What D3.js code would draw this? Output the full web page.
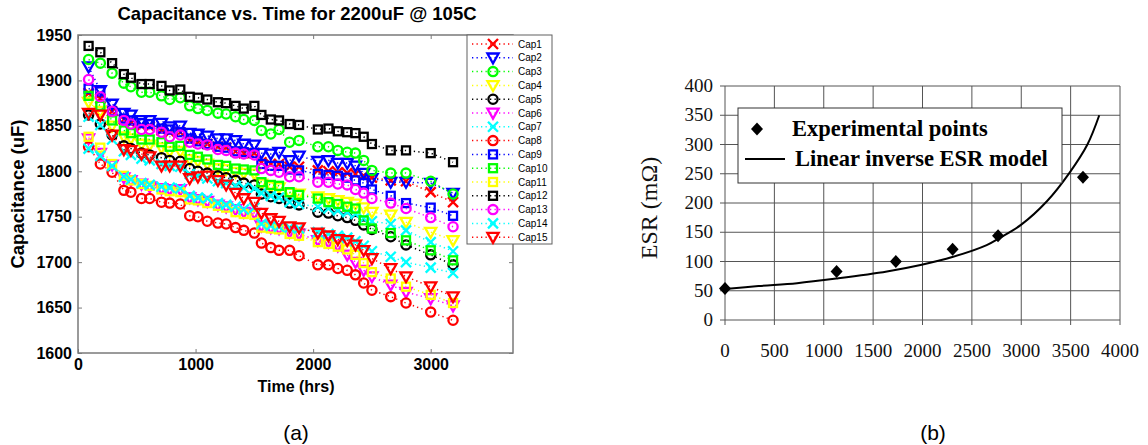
<!DOCTYPE html>
<html><head><meta charset="utf-8">
<script src="https://cdn.jsdelivr.net/npm/d3@7"></script>
<style>body{margin:0;background:#fff}svg{display:block}</style>
</head><body>
<svg id="c" width="1148" height="445"></svg>
<script>
// ---------- Panel (a) data ----------
const hours = [90,190,290,390,450,540,610,710,780,870,950,1020,1100,1190,1260,1340,1410,1500,1560,1640,1710,1800,1880,2040,2130,2210,2290,2360,2430,2500,2660,2790,3000,3190];
const cap1  = [1886,1880,1866,1857,1853,1850,1849,1845,1843,1843,1834,1832,1830,1827,1826,1822,1820,1820,1810,1808,1808,1805,1805,1801,1800,1799,1798,1797,1795,1793,1790,1789,1777,1766];
const cap2  = [1915,1889,1874,1864,1862,1856,1856,1853,1849,1850,1842,1841,1839,1836,1836,1834,1830,1829,1820,1819,1821,1812,1817,1811,1812,1809,1809,1806,1798,1792,1788,1788,1787,1776];
const cap3  = [1923,1919,1908,1897,1893,1887,1887,1883,1879,1881,1872,1869,1867,1864,1863,1860,1857,1856,1845,1841,1846,1832,1834,1827,1827,1823,1821,1820,1812,1801,1798,1798,1789,1775];
const cap4  = [1876,1866,1850,1838,1836,1830,1829,1826,1822,1822,1813,1811,1808,1803,1802,1799,1798,1797,1786,1783,1782,1776,1775,1772,1770,1768,1766,1764,1760,1755,1752,1744,1733,1724];
const cap5  = [1862,1852,1840,1828,1825,1820,1818,1815,1812,1811,1803,1800,1798,1795,1793,1790,1787,1785,1775,1772,1770,1765,1763,1755,1754,1751,1749,1746,1741,1736,1728,1719,1708,1697];
const cap6  = [1836,1820,1807,1793,1790,1786,1783,1781,1780,1780,1771,1769,1767,1763,1761,1758,1755,1754,1740,1738,1737,1733,1731,1724,1722,1718,1708,1700,1691,1684,1675,1667,1660,1652];
const cap7  = [1860,1851,1835,1822,1818,1814,1812,1808,1806,1805,1797,1795,1792,1789,1787,1784,1782,1781,1776,1773,1771,1766,1764,1761,1759,1757,1755,1753,1748,1745,1742,1735,1722,1712];
const cap8  = [1827,1808,1799,1779,1777,1770,1770,1766,1765,1764,1751,1750,1745,1743,1742,1738,1735,1732,1721,1716,1713,1713,1707,1697,1697,1693,1691,1686,1677,1669,1662,1655,1645,1636];
const cap9  = [1891,1888,1866,1858,1856,1853,1852,1847,1846,1843,1836,1833,1830,1827,1826,1822,1821,1820,1808,1806,1806,1802,1801,1797,1796,1795,1793,1790,1787,1780,1773,1765,1760,1751];
const cap10 = [1883,1872,1856,1845,1842,1835,1835,1832,1827,1828,1818,1816,1813,1807,1806,1803,1802,1801,1788,1785,1784,1777,1774,1770,1766,1764,1761,1759,1746,1737,1732,1724,1713,1702];
const cap11 = [1838,1826,1808,1795,1790,1786,1784,1780,1778,1777,1769,1768,1765,1762,1760,1755,1753,1752,1738,1737,1736,1731,1729,1722,1720,1717,1714,1708,1699,1689,1682,1673,1664,1655];
const cap12 = [1938,1931,1919,1907,1903,1896,1896,1894,1889,1890,1882,1881,1879,1876,1875,1872,1869,1872,1862,1857,1856,1852,1851,1846,1847,1844,1843,1842,1838,1830,1823,1823,1820,1810];
const cap13 = [1901,1882,1866,1856,1852,1846,1846,1843,1838,1840,1832,1830,1829,1824,1823,1820,1819,1818,1803,1801,1799,1794,1794,1788,1788,1786,1785,1780,1776,1770,1765,1759,1749,1739];
const cap14 = [1825,1817,1806,1794,1791,1787,1785,1783,1782,1781,1773,1771,1770,1765,1763,1761,1758,1760,1742,1740,1739,1738,1737,1733,1731,1729,1727,1723,1718,1712,1706,1700,1694,1688];
const cap15 = [1864,1862,1840,1824,1823,1819,1816,1806,1806,1806,1792,1794,1795,1790,1785,1776,1770,1766,1754,1748,1745,1739,1738,1732,1729,1725,1724,1719,1713,1704,1693,1684,1673,1662];
const seriesNames = ["Cap1","Cap2","Cap3","Cap4","Cap5","Cap6","Cap7","Cap8","Cap9","Cap10","Cap11","Cap12","Cap13","Cap14","Cap15"];
const seriesValues = [cap1,cap2,cap3,cap4,cap5,cap6,cap7,cap8,cap9,cap10,cap11,cap12,cap13,cap14,cap15];
const seriesColors = ["#ff0000","#0000ff","#00ff00","#ffff00","#000000","#ff00ff","#00ffff","#ff0000","#0000ff","#00ff00","#ffff00","#000000","#ff00ff","#00ffff","#ff0000"];
const seriesMarkers = ["x","v","o","v","o","v","x","o","s","s","s","s","o","x","v"];
const xTicksA = [0,1000,2000,3000];
const yTicksA = [1600,1650,1700,1750,1800,1850,1900,1950];
const titleA = "Capacitance vs. Time for 2200uF @ 105C";

// ---------- Panel (b) data ----------
const expHours = [0,1130,1730,2305,2765,3625];
const expESR   = [54,83,100,121,144,244];
const modelHours = [0,340,730,1130,1640,1980,2310,2650,2790,3000,3260,3490,3670,3790];
const modelESR   = [53,58,63,71,83,94,108,128,141,163,203,252,300,350];
const xTicksB = [0,500,1000,1500,2000,2500,3000,3500,4000];
const yTicksB = [0,50,100,150,200,250,300,350,400];

const svg = d3.select("#c");
const SANS = "'Liberation Sans', Arial, sans-serif";
const SERIF = "'Liberation Serif', 'Times New Roman', serif";

// ================= Panel (a) =================
const xA = d3.scaleLinear().domain([0,3700]).range([78,513]);
const yA = d3.scaleLinear().domain([1600,1950]).range([353,35]);
const gA = svg.append("g");

gA.append("rect").attr("x",78).attr("y",35).attr("width",435).attr("height",318)
  .attr("fill","none").attr("stroke","#7a7a7a").attr("stroke-width",1.5);
function styleAxis(g){ g.select(".domain").remove(); g.selectAll(".tick line").attr("stroke","#7a7a7a"); }
gA.append("g").attr("transform","translate(0,353)")
  .call(d3.axisBottom(xA).tickValues(xTicksA).tickSize(-4).tickPadding(6).tickFormat(d3.format("d")))
  .call(styleAxis)
  .selectAll("text").attr("font-family",SANS).attr("font-weight","bold").attr("font-size",16).attr("fill","#000");
gA.append("g").attr("transform","translate(0,35)")
  .call(d3.axisTop(xA).tickValues(xTicksA).tickSize(-4).tickFormat(""))
  .call(styleAxis);
gA.append("g").attr("transform","translate(78,0)")
  .call(d3.axisLeft(yA).tickValues(yTicksA).tickSize(-4).tickPadding(6).tickFormat(d3.format("d")))
  .call(styleAxis)
  .selectAll("text").attr("font-family",SANS).attr("font-weight","bold").attr("font-size",16).attr("fill","#000");
gA.append("g").attr("transform","translate(513,0)")
  .call(d3.axisRight(yA).tickValues(yTicksA).tickSize(-4).tickFormat(""))
  .call(styleAxis);

function marker(g, type, color){
  const sw = 2.3;
  if(type==="x"){
    g.append("path").attr("d","M-5,-5L5,5M-5,5L5,-5").attr("stroke",color).attr("stroke-width",sw).attr("fill","none");
  } else if(type==="v"){
    g.append("path").attr("d","M-5.6,-4.3L5.6,-4.3L0,5.6Z").attr("stroke",color).attr("stroke-width",sw).attr("fill","none");
  } else if(type==="o"){
    g.append("circle").attr("r",4.6).attr("stroke",color).attr("stroke-width",sw).attr("fill","none");
  } else if(type==="s"){
    g.append("rect").attr("x",-4).attr("y",-4).attr("width",8).attr("height",8).attr("stroke",color).attr("stroke-width",sw).attr("fill","none");
  }
}

const lineA = d3.line().x(d=>xA(d[0])).y(d=>yA(d[1]));
seriesValues.forEach((vals,i)=>{
  const pts = hours.map((h,j)=>[h,vals[j]]);
  const sg = gA.append("g");
  sg.append("path").attr("d",lineA(pts)).attr("fill","none").attr("stroke",seriesColors[i])
    .attr("stroke-width",1.5).attr("stroke-dasharray","1.3,3.2");
  pts.forEach(p=>{
    marker(sg.append("g").attr("transform",`translate(${xA(p[0])},${yA(p[1])})`), seriesMarkers[i], seriesColors[i]);
  });
});

// legend (a)
const legA = gA.append("g");
legA.append("rect").attr("x",467).attr("y",35).attr("width",85).attr("height",209)
  .attr("fill","#fff").attr("stroke","#606060").attr("stroke-width",1);
seriesNames.forEach((n,i)=>{
  const yy = 44 + i*13.8;
  legA.append("line").attr("x1",472).attr("x2",513).attr("y1",yy).attr("y2",yy)
    .attr("stroke",seriesColors[i]).attr("stroke-width",1.5).attr("stroke-dasharray","1.3,3.2");
  marker(legA.append("g").attr("transform",`translate(493,${yy})`), seriesMarkers[i], seriesColors[i]);
  legA.append("text").attr("x",518).attr("y",yy+3.5).text(n)
    .attr("font-family",SANS).attr("font-size",10).attr("fill","#000");
});

gA.append("text").attr("x",297).attr("y",20).attr("text-anchor","middle").text(titleA)
  .attr("font-family",SANS).attr("font-weight","bold").attr("font-size",18.5);
gA.append("text").attr("x",296).attr("y",392).attr("text-anchor","middle").text("Time (hrs)")
  .attr("font-family",SANS).attr("font-weight","bold").attr("font-size",16);
gA.append("text").attr("transform","translate(24,194) rotate(-90)").attr("text-anchor","middle").text("Capacitance (uF)")
  .attr("font-family",SANS).attr("font-weight","bold").attr("font-size",18.5);
gA.append("text").attr("x",296).attr("y",440).attr("text-anchor","middle").text("(a)")
  .attr("font-family",SANS).attr("font-size",21);

// ================= Panel (b) =================
const xB = d3.scaleLinear().domain([0,4000]).range([725,1120]);
const yB = d3.scaleLinear().domain([0,400]).range([320,86]);
const gB = svg.append("g");
const gridCol = "#555";
gB.selectAll(".vg").data(xTicksB).enter().append("line")
  .attr("x1",d=>xB(d)).attr("x2",d=>xB(d)).attr("y1",yB(400)).attr("y2",yB(0)+5)
  .attr("stroke",gridCol).attr("stroke-width",1);
gB.selectAll(".hg").data(yTicksB).enter().append("line")
  .attr("x1",xB(0)-5).attr("x2",xB(4000)).attr("y1",d=>yB(d)).attr("y2",d=>yB(d))
  .attr("stroke",gridCol).attr("stroke-width",1);
gB.selectAll(".xl").data(xTicksB).enter().append("text")
  .attr("x",d=>xB(d)).attr("y",357).attr("text-anchor","middle").text(d=>d)
  .attr("font-family",SERIF).attr("font-size",19).attr("fill","#111");
gB.selectAll(".yl").data(yTicksB).enter().append("text")
  .attr("x",713).attr("y",d=>yB(d)+6).attr("text-anchor","end").text(d=>d)
  .attr("font-family",SERIF).attr("font-size",19).attr("fill","#111");
gB.append("text").attr("transform","translate(657,208) rotate(-90)").attr("text-anchor","middle")
  .text("ESR (mΩ)").attr("font-family",SERIF).attr("font-size",24).attr("fill","#111");

const lineB = d3.line().x(d=>xB(d[0])).y(d=>yB(d[1])).curve(d3.curveCatmullRom.alpha(0.5));
gB.append("path").attr("d",lineB(modelHours.map((h,i)=>[h,modelESR[i]])))
  .attr("fill","none").attr("stroke","#000").attr("stroke-width",2);
const diamond = "M0,-6.5L6,0L0,6.5L-6,0Z";
expHours.forEach((h,i)=>{
  gB.append("path").attr("d",diamond).attr("transform",`translate(${xB(h)},${yB(expESR[i])})`).attr("fill","#000");
});

gB.append("rect").attr("x",738).attr("y",108).attr("width",324).attr("height",75)
  .attr("fill","#fff").attr("stroke","#333").attr("stroke-width",1);
gB.append("path").attr("d",diamond).attr("transform","translate(757,129)").attr("fill","#000");
gB.append("text").attr("x",792).attr("y",136).text("Experimental points")
  .attr("font-family",SERIF).attr("font-weight","bold").attr("font-size",22.5);
gB.append("line").attr("x1",745).attr("x2",785).attr("y1",159).attr("y2",159).attr("stroke","#000").attr("stroke-width",2);
gB.append("text").attr("x",795).attr("y",166).text("Linear inverse ESR model")
  .attr("font-family",SERIF).attr("font-weight","bold").attr("font-size",22.5);
gB.append("text").attr("x",933).attr("y",440).attr("text-anchor","middle").text("(b)")
  .attr("font-family",SANS).attr("font-size",21);
</script>
</body></html>
